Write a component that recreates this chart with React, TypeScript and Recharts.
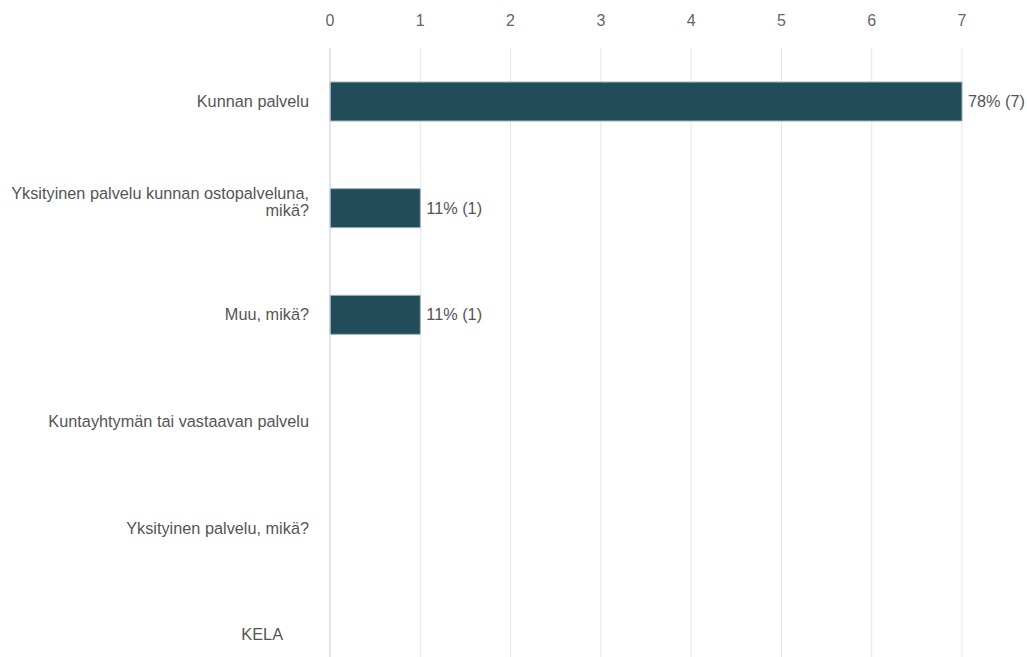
import React from 'react';
import { BarChart, Bar, XAxis, YAxis, CartesianGrid, LabelList } from 'recharts';

const categories = [
  'Kunnan palvelu',
  'Yksityinen palvelu kunnan ostopalveluna,\nmikä?',
  'Muu, mikä?',
  'Kuntayhtymän tai vastaavan palvelu',
  'Yksityinen palvelu, mikä?',
  'KELA',
];
const counts = [7, 1, 1, 0, 0, 0];
const xTicks = [0, 1, 2, 3, 4, 5, 6, 7];

const total = counts.reduce((a, b) => a + b, 0);
const data = categories.map((name, i) => ({ name, value: counts[i] }));

const FONT = '"Liberation Sans", Arial, sans-serif';

const CategoryTick = (props: any) => {
  const { y, payload } = props;
  const lines: string[] = String(payload.value).split('\n');
  const shift = payload.value === 'KELA' ? -26 : 0;
  const first = lines.length > 1 ? -14.5 : 0;
  return (
    <g>
      {lines.map((line, i) => (
        <text
          key={i}
          x={309 + shift}
          y={y + first + i * 17}
          dy={5.5}
          textAnchor="end"
          fill="#555555"
          fontSize={16.3}
          fontFamily={FONT}
        >
          {line}
        </text>
      ))}
    </g>
  );
};

const ValueTick = (props: any) => {
  const { x, payload } = props;
  return (
    <text x={x} y={25.5} textAnchor="middle" fill="#666666" fontSize={16} fontFamily={FONT}>
      {payload.value}
    </text>
  );
};

const renderLabel = (props: any) => {
  const { x, y, width, height, value } = props;
  if (!value) return null;
  const pct = Math.round((value / total) * 100);
  return (
    <text
      x={x + width + 6}
      y={y + height / 2 + 5.5}
      fill="#555555"
      fontSize={16.3}
      fontFamily={FONT}
    >
      {`${pct}% (${value})`}
    </text>
  );
};

export default function App() {
  return (
    <div style={{ position: 'absolute', left: 0, top: 0, width: 1027, height: 657, overflow: 'hidden', background: '#fff' }}>
      <BarChart
        width={1027}
        height={688}
        data={data}
        layout="vertical"
        margin={{ top: 0, right: 65, bottom: 0, left: 10 }}
        barCategoryGap={0}
      >
        <CartesianGrid horizontal={false} stroke="#e6e6e6" />
        <XAxis
          type="number"
          orientation="top"
          domain={[0, 7]}
          ticks={xTicks}
          height={48}
          axisLine={false}
          tickLine={false}
          tick={<ValueTick />}
        />
        <YAxis
          type="category"
          dataKey="name"
          width={320}
          axisLine={{ stroke: '#ccd6eb' }}
          tickLine={false}
          tick={<CategoryTick />}
          interval={0}
        />
        <Bar dataKey="value" fill="#234c5a" stroke="#9fb3ba" strokeWidth={1} barSize={39} isAnimationActive={false}>
          <LabelList dataKey="value" content={renderLabel} />
        </Bar>
      </BarChart>
    </div>
  );
}
